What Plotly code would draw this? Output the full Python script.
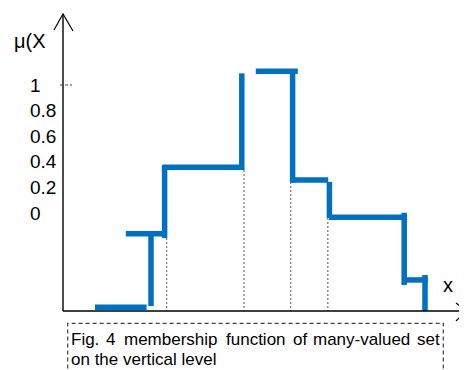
import plotly.graph_objects as go

# ---- data (chart units: x arbitrary, y in membership units of the labelled scale) ----
# horizontal levels of the step membership function
h_x_start = [0.80, 1.57, 2.49, 4.82, 5.68, 6.65, 8.53]
h_x_end = [2.09, 2.59, 4.51, 5.87, 6.63, 8.59, 9.12]
h_level = [-0.737, -0.162, 0.357, 1.107, 0.258, -0.034, -0.523]
# vertical jumps between levels
v_x = [2.20, 2.54, 4.47, 5.74, 6.66, 8.53, 9.05]
v_top = [-0.164, 0.375, 1.091, 1.109, 0.242, 0.002, -0.484]
v_bottom = [-0.727, -0.195, 0.336, 0.237, -0.039, -0.562, -0.766]
# dotted projections onto the x axis
d_x = [2.59, 4.525, 5.69, 6.62]
d_top = [-0.195, 0.336, 0.242, -0.039]
baseline = -0.766
tick_vals = [0, 0.2, 0.4, 0.6, 0.8, 1]
tick_text = ["0", "0.2", "0.4", "0.6", "0.8", "1"]
caption_line1 = ["Fig.", "4", "membership", "function", "of", "many-valued", "set"]
caption_line2 = "on the vertical level"

# ---- geometry helpers (page body has an 8px margin) ----
OFF = 8
W, H = 467 - OFF, 370 - OFF
L = 58 - OFF
PW = W - L


def pxx(x):
    return (x - OFF - L) / PW


def pxy(y):
    return (H - (y - OFF)) / H


BLUE = "#0070C0"

seg_x, seg_y = [], []
for xs, xe, lv in zip(h_x_start, h_x_end, h_level):
    seg_x += [xs, xe, None]
    seg_y += [lv, lv, None]
for xv, yt, yb in zip(v_x, v_top, v_bottom):
    seg_x += [xv, xv, None]
    seg_y += [yt, yb, None]

fig = go.Figure()
fig.add_trace(go.Scatter(x=seg_x, y=seg_y, mode="lines",
                         line=dict(color=BLUE, width=5.5),
                         hoverinfo="skip", showlegend=False))

shapes = []
for xv, yt in zip(d_x, d_top):
    shapes.append(dict(type="line", xref="x", yref="y", x0=xv, x1=xv, y0=yt, y1=baseline,
                       line=dict(color="#7F7F7F", width=1.3, dash="2px,2px")))
shapes.append(dict(type="line", xref="x", yref="y", x0=0, x1=0, y0=baseline, y1=1.555,
                   line=dict(color="black", width=1.4)))
shapes.append(dict(type="line", xref="x", yref="y", x0=0, x1=10.08, y0=baseline, y1=baseline,
                   line=dict(color="black", width=1.4)))
shapes.append(dict(type="line", xref="x", yref="y", x0=-0.075, x1=0.225, y0=1, y1=1,
                   line=dict(color="#404040", width=1, dash="3px,2px")))
shapes.append(dict(type="path", xref="paper", yref="paper",
                   path=f"M {pxx(54)},{pxy(30)} L {pxx(63)},{pxy(14)} L {pxx(73)},{pxy(31)}",
                   line=dict(color="black", width=1.2)))
shapes.append(dict(type="path", xref="paper", yref="paper",
                   path=f"M {pxx(456)},{pxy(303)} L {pxx(466.5)},{pxy(311)} L {pxx(456)},{pxy(321)}",
                   line=dict(color="black", width=1.2)))
shapes.append(dict(type="rect", xref="paper", yref="paper",
                   x0=pxx(67.7), x1=pxx(443.3), y0=pxy(385), y1=pxy(323.3),
                   line=dict(color="#404040", width=1.2, dash="4px,3px")))

annotations = []
tick_font = dict(family="Liberation Sans", size=19, color="black")
for tv, tt in zip(tick_vals, tick_text):
    annotations.append(dict(text=tt, xref="paper", yref="y", x=pxx(28), y=tv,
                            xanchor="left", yanchor="middle", showarrow=False, font=tick_font))
annotations.append(dict(text="\u03bc(X", xref="paper", yref="paper", x=pxx(12), y=pxy(41),
                        xanchor="left", yanchor="middle", showarrow=False,
                        font=dict(family="Liberation Sans", size=20, color="black")))
annotations.append(dict(text="x", xref="paper", yref="paper", x=pxx(448), y=pxy(285),
                        xanchor="center", yanchor="middle", showarrow=False,
                        font=dict(family="Liberation Sans", size=20, color="black")))
cap_font = dict(family="Liberation Sans", size=17, color="black")
word_left = [68.5, 103.5, 121.5, 223.5, 290.5, 311.0, 441.5]
for i, (w, xp) in enumerate(zip(caption_line1, word_left)):
    anchor = "right" if i == len(caption_line1) - 1 else "left"
    annotations.append(dict(text=w, xref="paper", yref="paper", x=pxx(xp), y=pxy(339),
                            xanchor=anchor, yanchor="middle", showarrow=False, font=cap_font))
annotations.append(dict(text=caption_line2, xref="paper", yref="paper", x=pxx(68.5), y=pxy(359),
                        xanchor="left", yanchor="middle", showarrow=False, font=cap_font))

fig.update_layout(
    width=W, height=H, autosize=False,
    margin=dict(l=L, r=0, t=0, b=0, pad=0),
    paper_bgcolor="white", plot_bgcolor="white",
    shapes=shapes, annotations=annotations,
    xaxis=dict(range=[-0.125, 10.1], visible=False, fixedrange=True),
    yaxis=dict(range=[(213 - 370) / 128, (213 - OFF) / 128], showticklabels=False,
               showgrid=False, zeroline=False, showline=False, ticks="",
               fixedrange=True),
)

fig.write_html("out.html")
